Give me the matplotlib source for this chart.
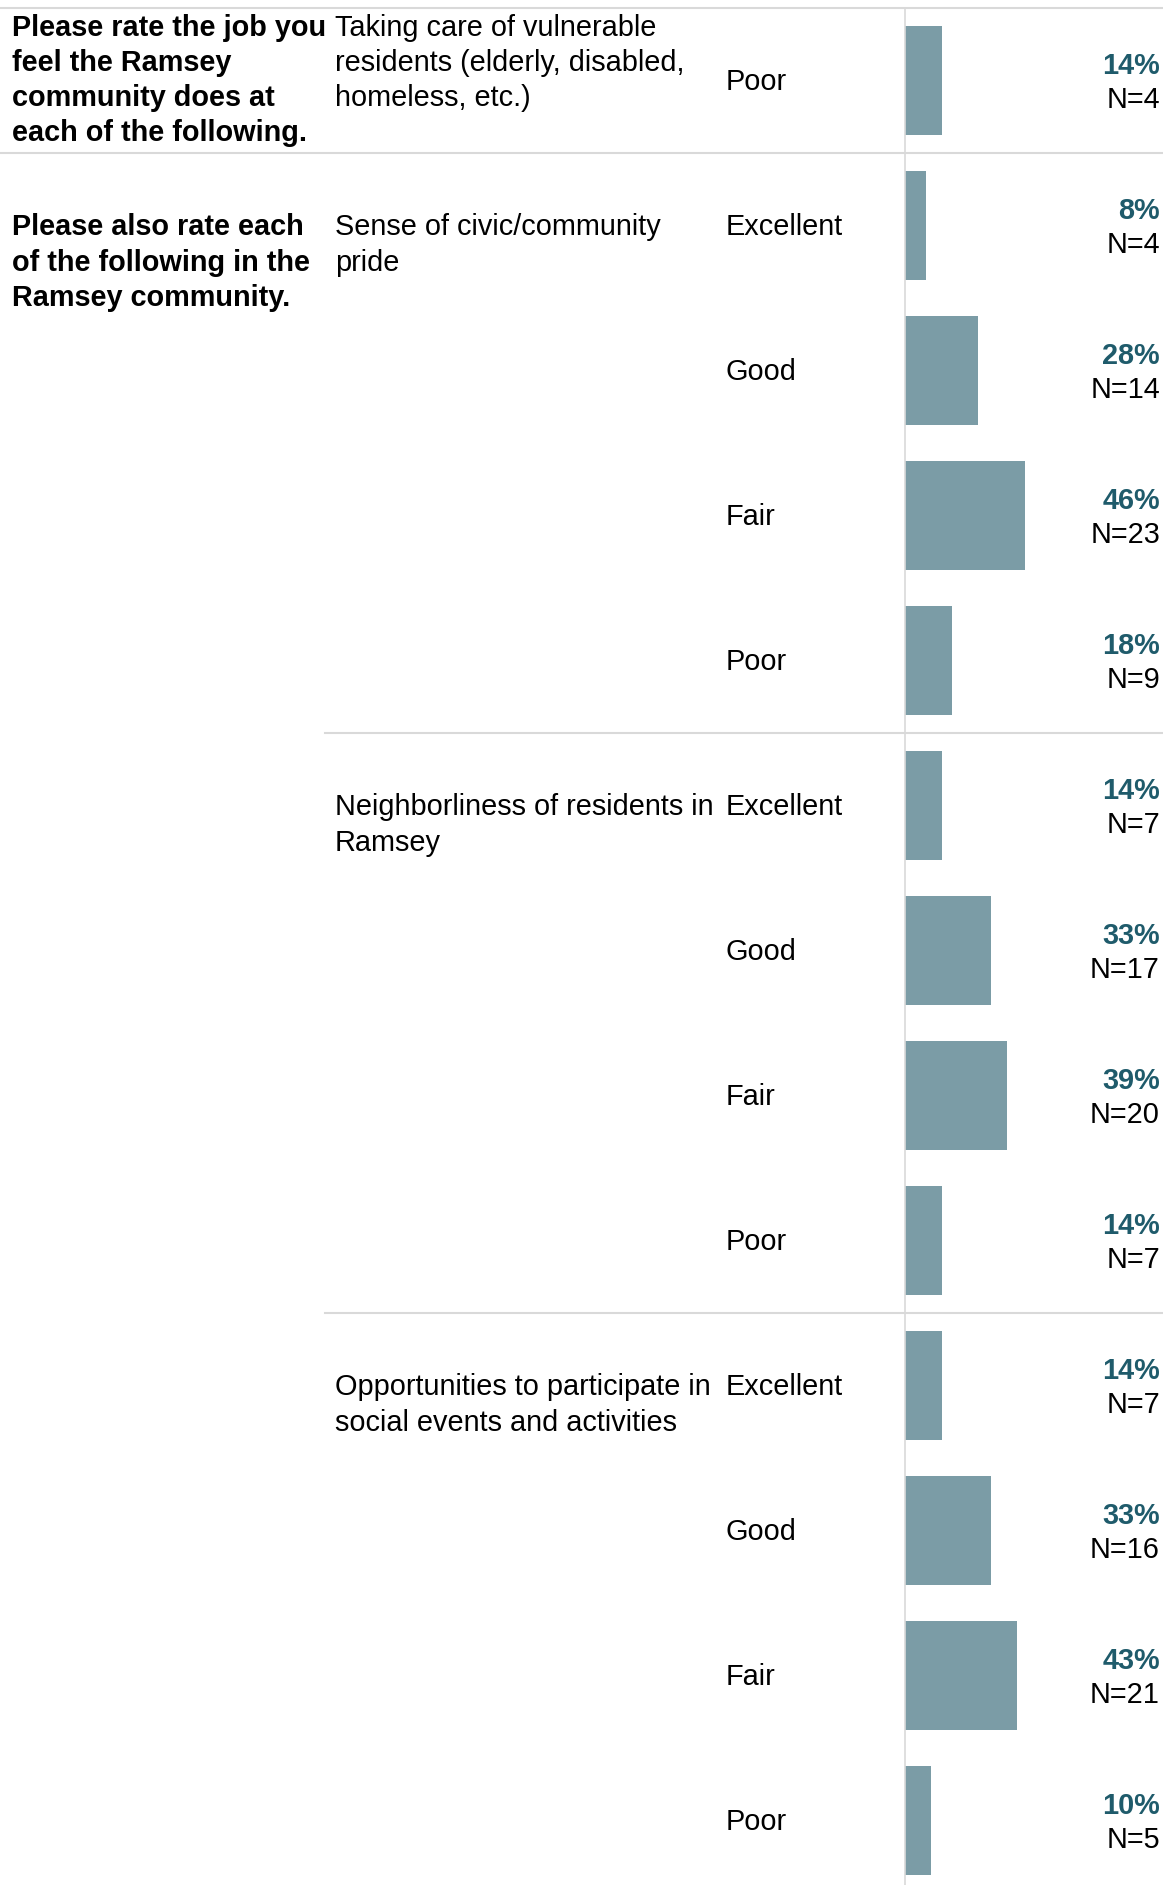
import matplotlib
matplotlib.use("Agg")
import matplotlib.pyplot as plt
from matplotlib.lines import Line2D
from matplotlib.transforms import blended_transform_factory

# survey questions (left column) and the items rated under them
sections = [
    "Please rate the job you\nfeel the Ramsey\ncommunity does at\neach of the following.",
    "Please also rate each\nof the following in the\nRamsey community.",
]
categories = [
    "Taking care of vulnerable\nresidents (elderly, disabled,\nhomeless, etc.)",
    "Sense of civic/community\npride",
    "Neighborliness of residents in\nRamsey",
    "Opportunities to participate in\nsocial events and activities",
]
category_section = [0, 1, 1, 1]
ratings = [
    ["Poor"],
    ["Excellent", "Good", "Fair", "Poor"],
    ["Excellent", "Good", "Fair", "Poor"],
    ["Excellent", "Good", "Fair", "Poor"],
]
pct_values = [
    [14],
    [8, 28, 46, 18],
    [14, 33, 39, 14],
    [14, 33, 43, 10],
]
n_values = [
    [4],
    [4, 14, 23, 9],
    [7, 17, 20, 7],
    [7, 16, 21, 5],
]

BAR_COLOR = '#7b9ca6'
PCT_COLOR = '#1f5b6b'
LINE_COLOR = '#d9d9d9'
FS = 20.8
LS = 1.33

plt.rcParams['font.family'] = ['Liberation Sans', 'DejaVu Sans']

W, H = 1163, 1885
ROW = 145
TOP = 8
ASC = 21 / ROW  # cap height in row units, for top-aligned blocks
fig = plt.figure(figsize=(W / 100, H / 100), dpi=100)

x0 = 905 / W
ax = fig.add_axes([x0, 0, 1 - x0, (H - TOP) / H])
ax.set_xlim(0, (W - 905) / 261)
ax.set_ylim((H - TOP) / ROW, 0)
for side in ['top', 'right', 'bottom']:
    ax.spines[side].set_visible(False)
ax.spines['left'].set_color(LINE_COLOR)
ax.spines['left'].set_linewidth(1.2)
ax.set_xticks([])
ax.set_yticks([])

tr = blended_transform_factory(fig.transFigure, ax.transData)

row = 0
seen_sections = set()
for ci, cat in enumerate(categories):
    sec = category_section[ci]
    first = row
    if ci == 0:
        base = first + 0.183
    else:
        base = first + 0.562
    if sec not in seen_sections:
        seen_sections.add(sec)
        ax.text(12 / W, base - ASC, sections[sec], transform=tr, fontsize=FS,
                fontweight='bold', va='top', ha='left',
                linespacing=LS, clip_on=False)
        ax.add_line(Line2D([0, 1], [first, first], transform=tr,
                           color=LINE_COLOR, lw=1.5, clip_on=False))
    else:
        ax.add_line(Line2D([325 / W, 1], [first, first], transform=tr,
                           color=LINE_COLOR, lw=1.5, clip_on=False))
    ax.text(335 / W, base - ASC, cat, transform=tr, fontsize=FS, va='top',
            ha='left', linespacing=LS, clip_on=False)

    for rating, pct, n in zip(ratings[ci], pct_values[ci], n_values[ci]):
        ax.barh(row + 0.5, pct / 100, height=0.75, left=0, color=BAR_COLOR)
        ax.text(726 / W, row + 0.565, rating, transform=tr, fontsize=FS,
                va='baseline', ha='left', clip_on=False)
        ax.text(1160 / W, row + 0.455, f"{pct}%", transform=tr, fontsize=FS,
                fontweight='bold', color=PCT_COLOR, va='baseline', ha='right',
                clip_on=False)
        ax.text(1160 / W, row + 0.69, f"N={n}", transform=tr, fontsize=FS,
                va='baseline', ha='right', clip_on=False)
        row += 1

fig.savefig('out.png', dpi=100)
